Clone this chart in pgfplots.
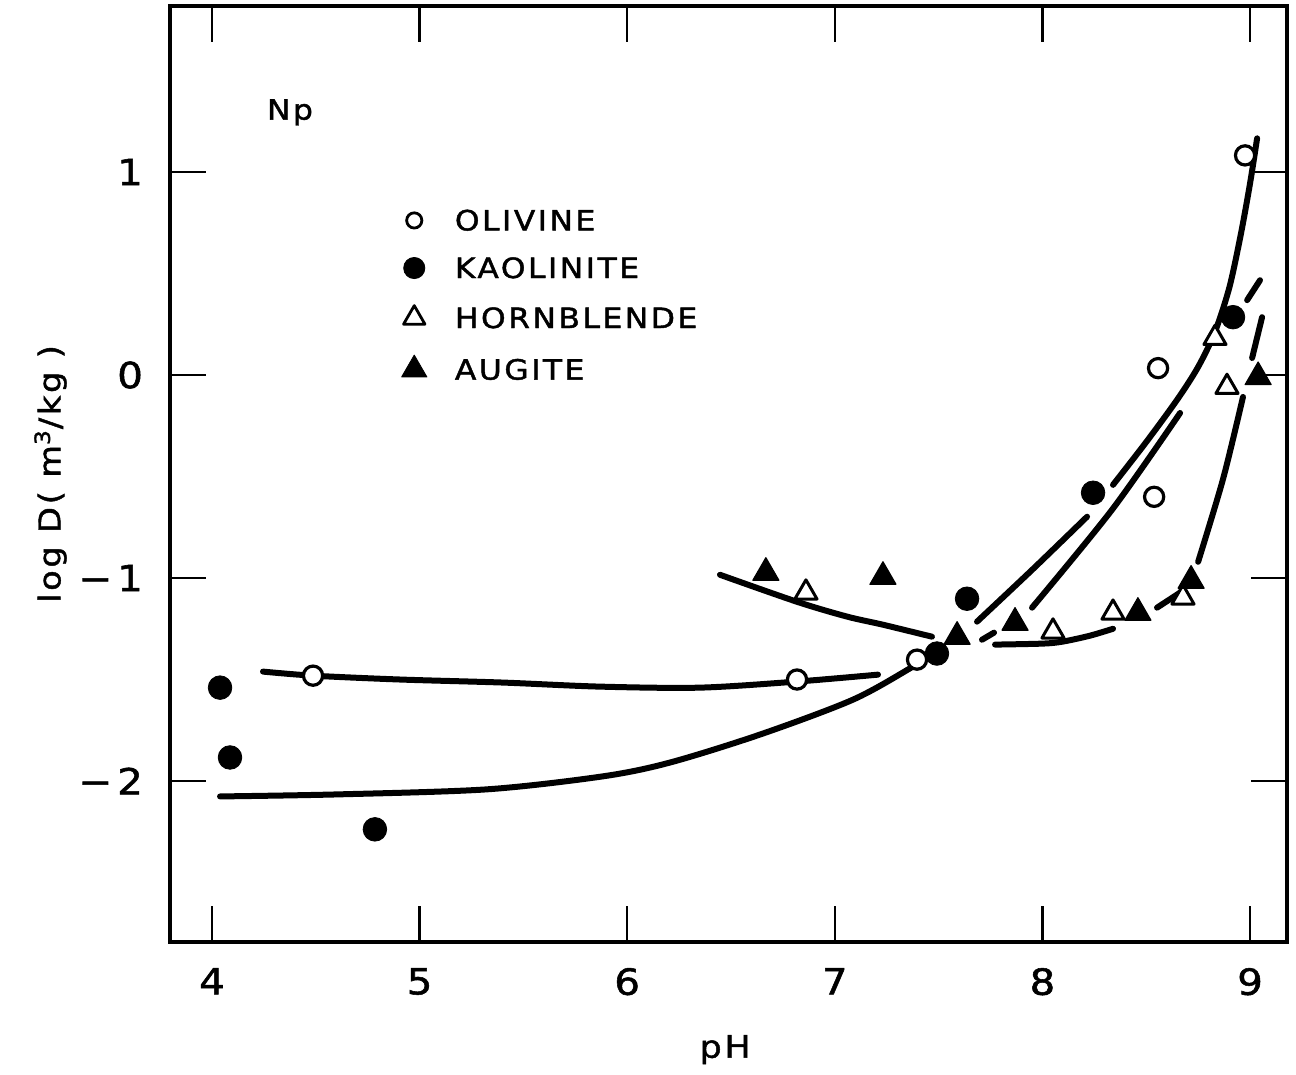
\documentclass[border=0pt]{standalone}
\usepackage{fontspec}
\setmainfont{DejaVu Sans}[FakeStretch=1.12, LetterSpace=9, FakeBold=1.5]
\usepackage{pgfplots}
\pgfplotsset{compat=1.18}

\pgfplotsset{
  fit/.style={black, line width=3pt, line cap=round, line join=round, smooth, no markers, forget plot},
  olv/.style={only marks, mark=*, mark size=4.8pt, mark options={fill=white, draw=black, line width=1.6pt}, forget plot},
  kao/.style={only marks, mark=*, mark size=5.9pt, mark options={fill=black, draw=black, line width=0.4pt}, forget plot},
  hbl/.style={only marks, mark=triangle*, mark size=6.4pt, mark options={fill=white, draw=black, line width=1.5pt, line join=round}, forget plot},
  aug/.style={only marks, mark=triangle*, mark size=7.5pt, mark options={fill=black, draw=black, line width=0.6pt, line join=round}, forget plot},
}

\begin{document}
\begin{tikzpicture}
\begin{axis}[
  at={(0pt,0pt)}, anchor=south west,
  scale only axis, width=558.5pt, height=468pt,
  xmin=3.798, xmax=9.178, ymin=-2.793, ymax=1.818,
  xtick={4,5,6,7,8,9},
  ytick={-2,-1,0,1},
  yticklabels={−\kern2.5pt2,−\kern2.5pt1,0,1},
  /pgf/number format/assume math mode=true,
  tick label style={font=\fontsize{18}{20}\selectfont},
  xticklabel style={yshift=-9.5pt},
  yticklabel style={xshift=-10pt},
  tick align=inside, tick pos=both,
  major tick length=18pt,
  every tick/.style={black, line width=1.2pt},
  axis line style={line width=1.6pt},
  xlabel={pH},
  ylabel={log D( m\textsuperscript{3}/kg )},
  xlabel style={at={(axis description cs:0.497,-0.115)}, anchor=center, font=\fontsize{15.5}{18}\selectfont},
  ylabel style={at={(axis description cs:-0.107,0.5)}, anchor=center, font=\fontsize{15}{18}\selectfont},
  legend image code/.code={\draw[#1] plot coordinates {(0pt,0pt)};},
  legend style={at={(axis description cs:0.207,0.782)}, anchor=north west,
    draw=none, fill=none, inner sep=0pt, row sep=13.5pt,
    font=\fontsize{14}{16}\selectfont,
    nodes={inner sep=0pt, text height=10pt, text depth=0pt},
    cells={anchor=west},
    /tikz/every odd column/.append style={column sep=14pt}},
]

% fitted curves
\addplot[fit] coordinates {(4.246,-1.461)(4.487,-1.481)(4.906,-1.500)(5.402,-1.515)(5.869,-1.535)(6.351,-1.540)(6.818,-1.510)(7.208,-1.476)};
\addplot[fit] coordinates {(4.039,-2.076)(4.602,-2.066)(5.325,-2.041)(5.883,-1.977)(6.206,-1.909)(6.640,-1.771)(7.088,-1.599)(7.377,-1.436)(7.507,-1.353)};
\addplot[fit] coordinates {(7.685,-1.215)(7.950,-0.960)(8.215,-0.698)};
\addplot[fit] coordinates {(8.340,-0.541)(8.500,-0.330)(8.650,-0.120)(8.750,0.040)(8.830,0.210)(8.900,0.430)(8.955,0.690)(9.000,0.944)(9.034,1.166)};
\addplot[fit] coordinates {(7.709,-1.304)(7.767,-1.269)};
\addplot[fit] coordinates {(7.950,-1.146)(8.335,-0.664)(8.663,-0.187)};
\addplot[fit] coordinates {(8.986,0.369)(9.048,0.467)};
\addplot[fit] coordinates {(7.772,-1.328)(8.003,-1.323)(8.099,-1.313)(8.229,-1.284)(8.340,-1.250)};
\addplot[fit] coordinates {(8.552,-1.146)(8.663,-1.072)};
\addplot[fit] coordinates {(8.750,-0.920)(8.870,-0.512)(8.966,-0.108)};
\addplot[fit] coordinates {(9.010,0.084)(9.058,0.285)};
\addplot[fit] coordinates {(6.447,-0.984)(6.818,-1.117)(7.059,-1.190)(7.232,-1.230)(7.468,-1.289)};

% measured points
\addplot[kao] coordinates {(4.039,-1.540)(4.087,-1.884)(4.785,-2.238)(7.492,-1.372)(7.637,-1.102)(8.244,-0.580)(8.918,0.285)};
\addplot[olv] coordinates {(4.487,-1.481)(6.818,-1.500)(7.396,-1.402)(8.557,0.034)(8.538,-0.600)(8.976,1.082)};
\addplot[hbl] coordinates {(6.861,-1.072)(8.051,-1.264)(8.340,-1.171)(8.677,-1.097)(8.831,0.182)(8.889,-0.059)};
\addplot[aug] coordinates {(6.668,-0.974)(7.232,-0.994)(7.589,-1.289)(7.868,-1.220)(8.460,-1.171)(8.716,-1.013)(9.039,-0.010)};

% legend
\addlegendimage{mark=*, mark size=3.8pt, mark options={fill=white, draw=black, line width=1.4pt}}
\addlegendentry{OLIVINE}
\addlegendimage{mark=*, mark size=5.3pt, mark options={fill=black, draw=black}}
\addlegendentry{KAOLINITE}
\addlegendimage{mark=triangle*, mark size=6.2pt, mark options={fill=white, draw=black, line width=1.4pt, line join=round}}
\addlegendentry{HORNBLENDE}
\addlegendimage{mark=triangle*, mark size=7.3pt, mark options={fill=black, draw=black, line join=round}}
\addlegendentry{AUGITE}

\node[font=\fontsize{14}{16}\selectfont] at (axis cs:4.376,1.294) {Np};
\end{axis}
\pgfresetboundingbox
\path (-85pt,-66.5pt) rectangle (563pt,471pt);
\end{tikzpicture}
\end{document}
